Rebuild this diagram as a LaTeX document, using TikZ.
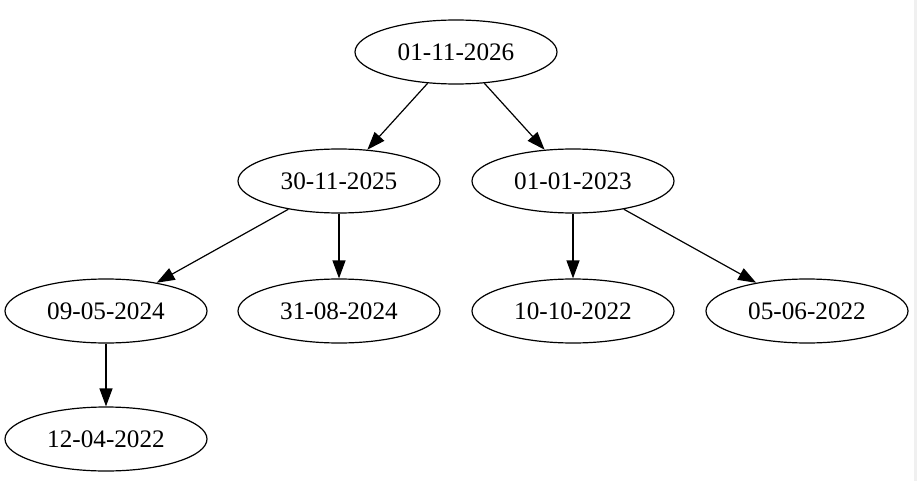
\documentclass[tikz,border=0pt]{standalone}
\usepackage{fontspec}
\setmainfont{Liberation Serif}
\usetikzlibrary{shapes.geometric,arrows.meta}

\begin{document}
\begin{tikzpicture}[x=1pt,y=-1pt,
	date/.style={ellipse,draw,line width=1.2pt,minimum width=202pt,minimum height=64pt,inner sep=0pt,font=\fontsize{25.2}{30}\selectfont},
	link/.style={line width=1.2pt,-{Triangle[length=18pt,width=13pt]}}]
\useasboundingbox (0,0) rectangle (917,481);
\fill[black!6] (914,0) rectangle (917,481);
% levels, top to bottom
\node [date] (a) at (456,52) {01-11-2026};
\node [date] (b) at (339,181) {30-11-2025};
\node [date] (c) at (573,181) {01-01-2023};
\node [date] (d) at (106,311) {09-05-2024};
\node [date] (e) at (339,311) {31-08-2024};
\node [date] (f) at (573,311) {10-10-2022};
\node [date] (g) at (807,311) {05-06-2022};
\node [date] (h) at (106,439) {12-04-2022};
\draw [link] (a) -- (b);
\draw [link] (a) -- (c);
\draw [link] (b) -- (d);
\draw [link] (b) -- (e);
\draw [link] (c) -- (f);
\draw [link] (c) -- (g);
\draw [link] (d) -- (h);
\end{tikzpicture}
\end{document}
